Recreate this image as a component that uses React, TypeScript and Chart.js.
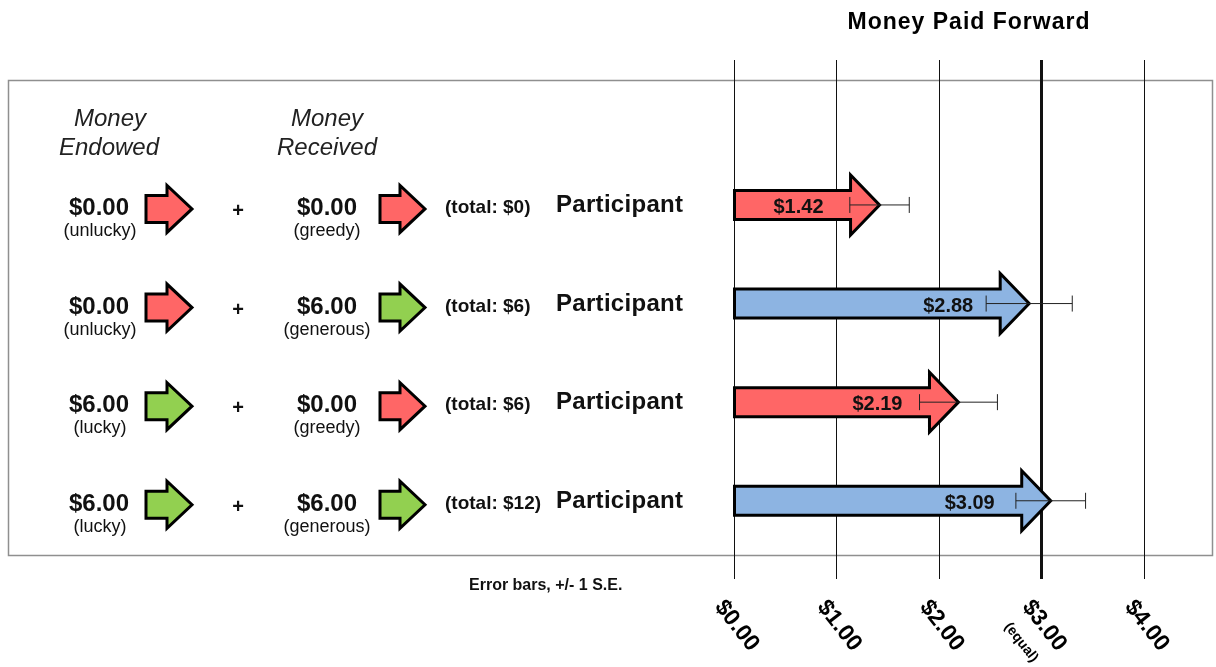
import React, { useEffect, useRef } from 'react';
import { Chart, registerables } from 'chart.js';

Chart.register(...registerables);

// ---- data ----
const rowIndex = [0, 1, 2, 3];
const endowed = [0, 0, 6, 6];
const endowedTags = ['(unlucky)', '(unlucky)', '(lucky)', '(lucky)'];
const received = [0, 6, 0, 6];
const receivedTags = ['(greedy)', '(generous)', '(greedy)', '(generous)'];
const totals = [0, 6, 6, 12];
const rowLabel = 'Participant';
const paidForward = [1.42, 2.88, 2.19, 3.09];
const stdErr = [0.29, 0.42, 0.38, 0.34];
const xTicks = [0, 1, 2, 3, 4];
const equalShare = 3;
const equalNote = '(equal)';
const title = 'Money Paid Forward';
const note = 'Error bars, +/- 1 S.E.';
const headerEndowed = ['Money', 'Endowed'];
const headerReceived = ['Money', 'Received'];

const RED = '#FF6666';
const BLUE = '#8DB4E2';
const GREEN = '#92D050';
const FONT = '"Liberation Sans", Arial, sans-serif';

const money = (v: number) => '$' + v.toFixed(2);

function drawArrow(
  ctx: CanvasRenderingContext2D,
  x0: number,
  x1: number,
  yc: number,
  shaftH: number,
  headH: number,
  headL: number,
  fill: string,
  lw: number
) {
  const hb = x1 - headL;
  ctx.beginPath();
  ctx.moveTo(x0, yc - shaftH / 2);
  ctx.lineTo(hb, yc - shaftH / 2);
  ctx.lineTo(hb, yc - headH / 2);
  ctx.lineTo(x1, yc);
  ctx.lineTo(hb, yc + headH / 2);
  ctx.lineTo(hb, yc + shaftH / 2);
  ctx.lineTo(x0, yc + shaftH / 2);
  ctx.closePath();
  ctx.fillStyle = fill;
  ctx.fill();
  ctx.lineWidth = lw;
  ctx.strokeStyle = '#000';
  ctx.lineJoin = 'miter';
  ctx.stroke();
}

function text(
  ctx: CanvasRenderingContext2D,
  s: string,
  x: number,
  y: number,
  font: string,
  align: CanvasTextAlign = 'center',
  color = '#111',
  spacing = '0px'
) {
  ctx.font = font;
  ctx.textAlign = align;
  ctx.textBaseline = 'alphabetic';
  ctx.fillStyle = color;
  (ctx as any).letterSpacing = spacing;
  ctx.fillText(s, x, y);
  (ctx as any).letterSpacing = '0px';
}

const paidForwardPlugin = {
  id: 'paidForward',
  beforeDraw(chart: any) {
    const ctx: CanvasRenderingContext2D = chart.ctx;
    ctx.save();
    ctx.fillStyle = '#fff';
    ctx.fillRect(0, 0, chart.width, chart.height);
    ctx.strokeStyle = '#8f8f8f';
    ctx.lineWidth = 1.5;
    ctx.strokeRect(8.5, 80.5, 1204, 475);
    ctx.restore();
  },
  afterDatasetsDraw(chart: any) {
    const ctx: CanvasRenderingContext2D = chart.ctx;
    const xs = chart.scales.x;
    const meta = chart.getDatasetMeta(0);
    ctx.save();
    meta.data.forEach((el: any, i: number) => {
      const p = el.getProps(['x', 'y', 'base', 'height'], true);
      const color = received[i] > 0 ? BLUE : RED;
      drawArrow(ctx, p.base, p.x, p.y, p.height, 60, 29, color, 3);
      // value label
      text(ctx, money(paidForward[i]), p.x - 56, p.y + 8, `bold 20px ${FONT}`, 'right');
      // error bar
      const lo = xs.getPixelForValue(paidForward[i] - stdErr[i]);
      const hi = xs.getPixelForValue(paidForward[i] + stdErr[i]);
      ctx.strokeStyle = '#222';
      ctx.lineWidth = 1;
      ctx.beginPath();
      ctx.moveTo(lo, p.y);
      ctx.lineTo(hi, p.y);
      ctx.moveTo(lo, p.y - 8);
      ctx.lineTo(lo, p.y + 8);
      ctx.moveTo(hi, p.y - 8);
      ctx.lineTo(hi, p.y + 8);
      ctx.stroke();
    });
    ctx.restore();
  },
  afterDraw(chart: any) {
    const ctx: CanvasRenderingContext2D = chart.ctx;
    const xs = chart.scales.x;
    const ys = chart.scales.y;
    ctx.save();

    // title
    text(ctx, title, 969, 29, `bold 23px ${FONT}`, 'center', '#000', '1px');

    // headers
    text(ctx, headerEndowed[0], 110, 126, `italic 24px ${FONT}`, 'center', '#222');
    text(ctx, headerEndowed[1], 109, 155, `italic 24px ${FONT}`, 'center', '#222');
    text(ctx, headerReceived[0], 327, 126, `italic 24px ${FONT}`, 'center', '#222');
    text(ctx, headerReceived[1], 327, 155, `italic 24px ${FONT}`, 'center', '#222');

    rowIndex.forEach((i) => {
      const y = ys.getPixelForValue(i);
      text(ctx, money(endowed[i]), 99, y + 10, `bold 24px ${FONT}`);
      text(ctx, endowedTags[i], 100, y + 31, `18px ${FONT}`);
      drawArrow(ctx, 146, 192, y + 4, 27, 47, 25, endowed[i] > 0 ? GREEN : RED, 3);
      text(ctx, '+', 238, y + 12, `bold 20px ${FONT}`);
      text(ctx, money(received[i]), 327, y + 10, `bold 24px ${FONT}`);
      text(ctx, receivedTags[i], 327, y + 31, `18px ${FONT}`);
      drawArrow(ctx, 380, 425, y + 4, 27, 47, 25, received[i] > 0 ? GREEN : RED, 3);
      text(ctx, `(total: $${totals[i]})`, 445, y + 8, `bold 19px ${FONT}`, 'left');
      text(ctx, rowLabel, 556, y + 7, `bold 24px ${FONT}`, 'left', '#111', '0.3px');
    });

    // note
    text(ctx, note, 469, 590, `bold 16px ${FONT}`, 'left');

    // rotated tick labels
    const ang = (52 * Math.PI) / 180;
    xTicks.forEach((v) => {
      const px = xs.getPixelForValue(v);
      ctx.save();
      ctx.translate(px - 6, 596);
      ctx.rotate(ang);
      ctx.font = `bold 23px ${FONT}`;
      ctx.textAlign = 'left';
      ctx.textBaseline = 'top';
      ctx.fillStyle = '#000';
      ctx.fillText(money(v), 0, 0);
      ctx.restore();
      if (v === equalShare) {
        ctx.save();
        ctx.translate(px - 29, 620);
        ctx.rotate(ang);
        ctx.font = `bold 14px ${FONT}`;
        ctx.textAlign = 'left';
        ctx.textBaseline = 'top';
        ctx.fillStyle = '#000';
        ctx.fillText(equalNote, 0, 0);
        ctx.restore();
      }
    });
    ctx.restore();
  },
};

export default function App() {
  const ref = useRef<HTMLCanvasElement | null>(null);
  useEffect(() => {
    if (!ref.current) return;
    const chart = new Chart(ref.current, {
      type: 'bar',
      data: {
        datasets: [
          {
            data: rowIndex.map((i) => ({ x: paidForward[i], y: i })),
            backgroundColor: 'rgba(0,0,0,0)',
            borderWidth: 0,
            barThickness: 29,
          } as any,
        ],
      },
      options: {
        indexAxis: 'y',
        animation: false,
        responsive: false,
        devicePixelRatio: 1,
        layout: { padding: { left: 734, right: 72, top: 60, bottom: 88 } },
        plugins: {
          legend: { display: false },
          tooltip: { enabled: false },
          title: { display: false },
        },
        scales: {
          x: {
            type: 'linear',
            min: 0,
            max: 4,
            offset: false,
            position: 'bottom',
            ticks: { stepSize: 1, display: false },
            grid: {
              color: '#111',
              lineWidth: (c: any) => (c.tick && c.tick.value === equalShare ? 3 : 1),
              tickLength: 24,
              drawTicks: true,
              offset: false,
            },
            border: { display: false },
          },
          y: {
            type: 'linear',
            min: -1.47,
            max: 3.55,
            reverse: true,
            offset: false,
            grid: { offset: false },
            display: false,
          },
        },
      } as any,
      plugins: [paidForwardPlugin],
    });
    return () => chart.destroy();
  }, []);
  return (
    <div style={{ position: 'absolute', left: 0, top: 0, width: 1216, height: 667, background: '#fff' }}>
      <canvas ref={ref} width={1216} height={667} />
    </div>
  );
}
